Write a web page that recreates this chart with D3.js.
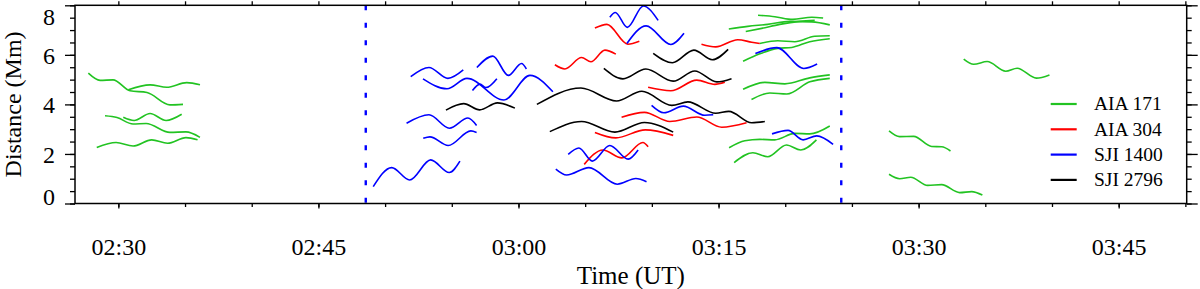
<!DOCTYPE html>
<html>
<head>
<meta charset="utf-8">
<script src="https://cdn.jsdelivr.net/npm/d3@7"></script>
<style>
  body { margin: 0; background: #fff; }
  text { font-family: "Liberation Serif", "Times New Roman", serif; fill: #000; }
</style>
</head>
<body>
<script>
// tracks: [minutes after 02:00 UT, distance in Mm]
const aia171 = [
  [[27.75,5.26],[28.63,4.97],[29.60,4.99],[30.88,4.55],[32.15,4.48],[33.87,3.98],[34.85,4.00]],
  [[30.75,4.59],[32.38,4.79],[33.63,4.69],[35.13,4.88],[36.12,4.79]],
  [[29.00,3.54],[29.90,3.47],[31.10,3.21],[32.08,3.23],[33.87,2.87],[35.07,2.89],[36.12,2.67]],
  [[30.37,3.48],[31.18,3.35],[32.38,3.63],[33.58,3.35],[34.75,3.60]],
  [[28.38,2.26],[29.83,2.46],[31.10,2.32],[32.50,2.57],[33.69,2.43],[35.07,2.66],[35.94,2.57]],
  [[77.96,7.60],[79.22,7.54],[80.57,7.43],[81.99,7.52],[82.84,7.49]],
  [[75.77,7.04],[77.19,7.15],[78.69,7.23],[80.34,7.35],[81.99,7.33],[83.34,7.21]],
  [[77.04,6.94],[78.24,7.07],[79.59,7.23],[81.09,7.35],[82.21,7.39]],
  [[78.09,6.46],[79.44,6.57],[80.72,6.53],[82.21,6.75],[83.34,6.77]],
  [[76.84,5.74],[78.09,6.04],[79.44,6.26],[80.49,6.30],[81.84,6.53],[83.34,6.65]],
  [[76.84,4.61],[78.47,4.89],[79.97,4.83],[81.84,5.07],[83.34,5.19]],
  [[77.47,4.20],[78.84,4.46],[80.12,4.42],[81.84,4.91],[83.34,5.05]],
  [[75.79,2.25],[76.97,2.53],[78.09,2.59],[79.22,2.57],[80.72,2.83],[81.84,2.81],[83.34,3.13]],
  [[76.17,1.65],[77.57,2.05],[78.69,1.89],[80.09,2.36],[81.16,2.16],[82.34,2.57]],
  [[93.38,5.83],[94.13,5.62],[95.14,5.73],[96.53,5.34],[97.39,5.46],[98.83,5.06],[99.81,5.19]],
  [[87.78,2.93],[88.58,2.70],[89.63,2.71],[90.98,2.30],[91.73,2.29],[92.39,2.12]],
  [[87.78,1.18],[88.58,1.00],[89.41,1.06],[90.68,0.73],[91.73,0.76],[93.08,0.44],[93.98,0.48],[94.78,0.34]]
];

const aia304 = [
  [[65.73,7.08],[66.63,7.23],[68.20,6.43],[69.06,6.55]],
  [[62.73,5.60],[63.48,5.43],[64.73,5.89],[65.43,5.72],[66.48,6.19],[67.30,6.03]],
  [[69.72,4.69],[71.42,4.55],[73.37,4.98],[74.72,4.81],[75.47,4.89]],
  [[67.73,3.48],[69.44,3.68],[71.35,3.31],[73.37,3.49],[75.24,3.08],[77.10,3.26]],
  [[65.73,2.87],[67.30,2.65],[69.51,2.97],[71.60,2.75]],
  [[64.93,1.58],[66.33,2.16],[67.75,1.84],[69.33,2.46],[69.72,2.29]],
  [[73.72,6.43],[74.79,6.32],[76.44,6.61],[77.49,6.51],[78.09,6.46]]
];

const sji1400 = [
  [[51.92,5.12],[53.29,5.49],[54.71,5.05],[55.86,5.39]],
  [[52.84,5.03],[54.64,4.63],[56.14,5.05],[58.91,4.18],[60.86,5.17],[62.58,4.51]],
  [[56.88,5.49],[58.08,5.95],[59.24,5.17],[60.23,5.65],[60.59,5.43]],
  [[56.55,4.56],[57.11,4.82],[57.56,4.68],[58.38,5.04]],
  [[51.61,3.24],[53.29,3.58],[54.82,3.04],[56.21,3.45],[56.86,3.15]],
  [[52.86,2.63],[53.36,2.69],[54.73,2.34],[56.43,2.93],[56.86,2.87]],
  [[49.11,0.68],[50.49,1.45],[51.84,0.95],[53.42,1.76],[54.81,1.25],[55.61,1.71]],
  [[66.85,7.52],[67.26,7.71],[68.16,7.11],[69.36,7.97],[70.47,7.39]],
  [[68.13,6.46],[69.57,7.17],[71.42,6.42],[72.41,6.87]],
  [[69.98,3.96],[70.90,3.66],[72.36,3.93],[73.97,3.56],[74.60,3.58]],
  [[63.73,1.98],[64.53,2.24],[65.54,1.71],[66.85,2.34],[68.22,1.79],[68.97,2.16]],
  [[62.80,1.39],[63.61,1.15],[65.28,1.45],[67.41,0.78],[68.80,1.01],[69.60,0.88]],
  [[77.76,6.05],[79.37,6.29],[81.39,5.45],[82.39,5.63]],
  [[79.01,2.81],[80.21,2.95],[81.34,2.57],[82.36,2.73],[83.59,2.39]]
];

const sji2796 = [
  [[54.56,3.77],[55.89,4.03],[57.09,3.78],[58.42,4.06],[59.73,3.85]],
  [[70.10,6.06],[71.54,5.68],[73.15,6.19],[74.53,5.80],[75.72,6.22]],
  [[61.38,4.00],[64.68,4.66],[67.35,4.14],[69.25,4.53],[71.50,3.96],[72.70,4.10],[74.79,3.64],[75.77,3.72],[77.49,3.26],[78.47,3.31]],
  [[66.40,5.45],[67.83,5.03],[69.55,5.43],[71.60,4.94],[73.22,5.35],[74.87,4.91],[75.97,5.04]],
  [[62.35,2.90],[64.73,3.31],[67.23,2.88],[69.44,3.27],[71.60,2.88]]
];

const seriesNames  = ["AIA 171", "AIA 304", "SJI 1400", "SJI 2796"];
const seriesColors = ["#22c322", "#ff0000", "#0000ff", "#000000"];
const seriesData   = [aia171, aia304, sji1400, sji2796];

const dashedTimes = [48.55, 84.2];   // minutes after 02:00
const timeRange   = [26.75, 110.1];
const distRange   = [0, 8];
const distMajor   = [0, 2, 4, 6, 8];

const width = 1200, height = 289;
const margin = { left: 75, right: 13.3, top: 5.3, bottom: 85.5 };

const toDate = m => new Date(Date.UTC(2014, 0, 1, 2, 0, 0) + m * 60000);

const svg = d3.select("body").append("svg")
  .attr("width", width)
  .attr("height", height);

const x = d3.scaleUtc()
  .domain(timeRange.map(toDate))
  .range([margin.left, width - margin.right]);

const y = d3.scaleLinear()
  .domain(distRange)
  .range([height - margin.bottom, margin.top]);

svg.append("clipPath").attr("id", "plot")
  .append("rect")
  .attr("x", margin.left).attr("y", margin.top)
  .attr("width", width - margin.left - margin.right)
  .attr("height", height - margin.top - margin.bottom);

// tracks
const line = d3.line()
  .x(d => x(toDate(d[0])))
  .y(d => y(d[1]))
  .curve(d3.curveMonotoneX);

seriesData.forEach((tracks, i) => {
  svg.append("g")
    .attr("clip-path", "url(#plot)")
    .selectAll("path")
    .data(tracks)
    .enter()
    .append("path")
    .attr("d", line)
    .attr("fill", "none")
    .attr("stroke", seriesColors[i])
    .attr("stroke-width", 1.6);
});

// dashed markers
svg.selectAll("line.mark")
  .data(dashedTimes)
  .enter()
  .append("line")
  .attr("class", "mark")
  .attr("x1", d => x(toDate(d)))
  .attr("x2", d => x(toDate(d)))
  .attr("y1", y(distRange[1]))
  .attr("y2", y(distRange[0]))
  .attr("stroke", "#0000ff")
  .attr("stroke-width", 2.4)
  .attr("stroke-dasharray", "5,12.5");

// axes
const styleAxis = g => {
  g.selectAll(".domain").remove();
  g.selectAll("line").attr("stroke", "#000").attr("stroke-width", 1.3);
  g.selectAll("text").attr("font-size", 24).attr("font-family", '"Liberation Serif", serif');
};

const bottom = height - margin.bottom;
svg.append("g").attr("transform", `translate(0,${bottom})`)
  .call(d3.axisBottom(x).ticks(d3.utcMinute.every(5)).tickSize(3.5).tickFormat(""))
  .call(styleAxis);
svg.append("g").attr("transform", `translate(0,${bottom})`)
  .call(d3.axisBottom(x).ticks(d3.utcMinute.every(15)).tickSize(5).tickPadding(29)
    .tickFormat(d3.utcFormat("%H:%M")))
  .call(styleAxis);
svg.append("g").attr("transform", `translate(0,${margin.top})`)
  .call(d3.axisTop(x).ticks(d3.utcMinute.every(5)).tickSize(4).tickFormat(""))
  .call(styleAxis);

svg.append("g").attr("transform", `translate(${margin.left},0)`)
  .call(d3.axisLeft(y).ticks(16).tickSize(5).tickFormat(""))
  .call(styleAxis);
const leftAxis = svg.append("g").attr("transform", `translate(${margin.left},0)`)
  .call(d3.axisLeft(y).tickValues(distMajor).tickSize(10).tickPadding(10).tickFormat(d3.format("d")))
  .call(styleAxis);
leftAxis.selectAll("text")
  .attr("dy", d => d === 8 ? "0.8em" : d === 0 ? "0.05em" : "0.35em");

const right = width - margin.right;
svg.append("g").attr("transform", `translate(${right},0)`)
  .call(d3.axisRight(y).ticks(16).tickSize(5).tickFormat(""))
  .call(styleAxis);
svg.append("g").attr("transform", `translate(${right},0)`)
  .call(d3.axisRight(y).tickValues(distMajor).tickSize(11).tickFormat(""))
  .call(styleAxis);

// frame
svg.append("rect")
  .attr("x", margin.left).attr("y", margin.top)
  .attr("width", width - margin.left - margin.right)
  .attr("height", height - margin.top - margin.bottom)
  .attr("fill", "none")
  .attr("stroke", "#000")
  .attr("stroke-width", 1.5);

// titles
svg.append("text")
  .attr("x", (margin.left + right) / 2)
  .attr("y", 284)
  .attr("text-anchor", "middle")
  .attr("font-size", 25)
  .text("Time (UT)");

svg.append("text")
  .attr("transform", `translate(21,${(margin.top + bottom) / 2}) rotate(-90)`)
  .attr("text-anchor", "middle")
  .attr("font-size", 24)
  .text("Distance (Mm)");

// legend
const legend = svg.append("g").attr("transform", "translate(1050.7,104)");
const rows = legend.selectAll("g")
  .data(seriesNames)
  .enter()
  .append("g")
  .attr("transform", (d, i) => `translate(0,${i * 25.3})`);
rows.append("line")
  .attr("x1", 0).attr("x2", 26)
  .attr("stroke", (d, i) => seriesColors[i])
  .attr("stroke-width", 2.2);
rows.append("text")
  .attr("x", 43.3)
  .attr("dy", "0.33em")
  .attr("font-size", 19.5)
  .text(d => d);
</script>
</body>
</html>
